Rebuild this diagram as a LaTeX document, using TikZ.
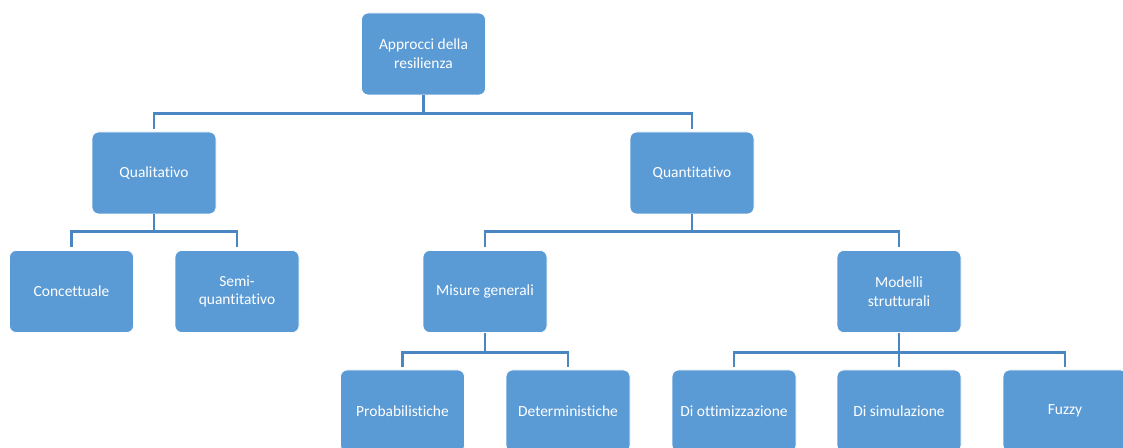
\documentclass[tikz,border=0pt]{standalone}
\usepackage{fontspec}
\setmainfont{Carlito}[Ligatures={NoCommon}]
\definecolor{boxblue}{HTML}{5B9BD5}
\definecolor{lineblue}{HTML}{4A86C1}
\begin{document}
\begin{tikzpicture}[x=0.75pt,y=-0.75pt,
  box/.style={rectangle, rounded corners=5pt, fill=boxblue, draw=white, line width=0.6pt,
    text=white, minimum width=93pt, minimum height=61.5pt, align=center,
    font=\fontsize{11.6}{14}\selectfont, inner sep=2pt},
  conn/.style={draw=lineblue, line width=2.2pt}]
\useasboundingbox (0,0) rectangle (1123,448);
\clip (0,0) rectangle (1123,448);
\fill[white] (0,0) rectangle (1123,448);
% nodes
\node[box] (root) at (423.5,54) {Approcci della\\resilienza};
\node[box] (qual) at (154,173) {Qualitativo};
\node[box] (quant) at (692,173) {Quantitativo};
\node[box] (conc) at (71.5,291.5) {Concettuale};
\node[box] (semi) at (237,291.5) {Semi-\\quantitativo};
\node[box] (mis) at (485,291.5) {Misure generali};
\node[box] (mod) at (899,291.5) {Modelli\\strutturali};
\node[box] (prob) at (402.5,411) {Probabilistiche};
\node[box] (det) at (568,411) {Deterministiche};
\node[box] (ott) at (734,411) {Di ottimizzazione};
\node[box] (sim) at (899,411) {Di simulazione};
\node[box] (fuz) at (1065,411) {Fuzzy};
% connectors
\draw[conn] (root.south) -- ++(0,18) coordinate (r1);
\draw[conn] ([yshift=2.2pt]qual.north) |- (r1) -| ([yshift=2.2pt]quant.north);
\draw[conn] (qual.south) -- ++(0,17) coordinate (q1);
\draw[conn] ([yshift=2.2pt]conc.north) |- (q1) -| ([yshift=2.2pt]semi.north);
\draw[conn] (quant.south) -- ++(0,17) coordinate (n1);
\draw[conn] ([yshift=2.2pt]mis.north) |- (n1) -| ([yshift=2.2pt]mod.north);
\draw[conn] (mis.south) -- ++(0,20) coordinate (m1);
\draw[conn] ([yshift=2.2pt]prob.north) |- (m1) -| ([yshift=2.2pt]det.north);
\draw[conn] (mod.south) -- ++(0,20) coordinate (s1);
\draw[conn] ([yshift=2.2pt]ott.north) |- (s1) -| ([yshift=2.2pt]fuz.north);
\draw[conn] (s1) -- ([yshift=2.2pt]sim.north);
\end{tikzpicture}
\end{document}
